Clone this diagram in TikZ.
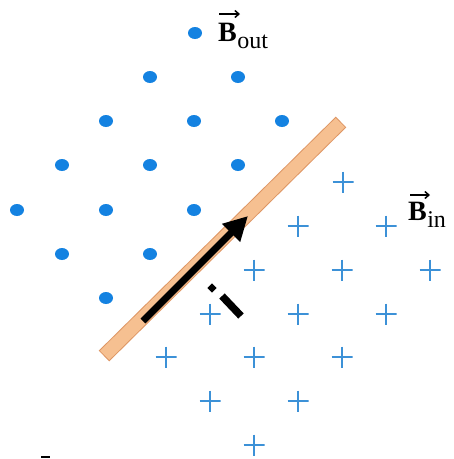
\documentclass[tikz,border=0pt]{standalone}
\usepackage{fontspec}
\setmainfont{Liberation Serif}
\usetikzlibrary{arrows.meta,calc,shapes.geometric}
\definecolor{dotblue}{RGB}{20,130,225}
\definecolor{crossblue}{RGB}{60,145,215}
\definecolor{barfill}{RGB}{246,192,145}
\definecolor{baredge}{RGB}{222,150,100}
\tikzset{
  fielddot/.style={fill=dotblue, ellipse, inner sep=0pt, minimum width=14pt, minimum height=12pt},
  fieldcross/.style={inner sep=0pt, minimum size=21pt, path picture={
      \draw[crossblue, line width=1.4pt] (path picture bounding box.west) -- (path picture bounding box.east)
        (path picture bounding box.north) -- (path picture bounding box.south);}},
  bletter/.style={anchor=base west, inner sep=0pt, font=\fontsize{28}{30}\selectfont\bfseries},
  bsub/.style={anchor=base west, inner sep=0pt, font=\fontsize{24}{26}\selectfont},
  vecarrow/.style={line width=1.5pt, -{Straight Barb[length=4pt,width=7pt]}}
}
\begin{document}
\begin{tikzpicture}[x=1pt, y=-1pt]
\useasboundingbox (0,0) rectangle (454,459);
% dots (B out)
\foreach \x/\y [count=\i] in {195/33, 150/77, 238/77, 106/121, 194/121, 282/121,
    62/165, 150/165, 238/165, 17/210, 106/210, 194/210, 62/254, 150/254, 106/298}
  \node[fielddot] (d\i) at (\x,\y) {};
% crosses (B in)
\foreach \x/\y [count=\i] in {343/182, 298/226, 386/226, 254/270, 342/270, 430/270,
    210/314, 298/314, 386/314, 166/357, 254/357, 342/357, 210/401, 298/401, 254/445}
  \node[fieldcross] (c\i) at (\x,\y) {};
% bar
\coordinate (barA) at (104,356);
\coordinate (barB) at (341,122);
\draw[baredge, line width=15pt] (barA) -- (barB);
\draw[barfill, line width=13pt] ($(barA)!1pt!(barB)$) -- ($(barB)!1pt!(barA)$);
% current arrow
\coordinate (arrS) at (143,321);
\coordinate (arrE) at (248,216);
\draw[line width=7pt, -{Triangle[length=24pt,width=24pt]}] (arrS) -- (arrE);
% rotated i mark
\coordinate (iD) at (212,288);
\coordinate (iA) at (222,296);
\coordinate (iB) at (241,316);
\node[fill=black, rotate=45, minimum size=6.5pt, inner sep=0pt] (idot) at (iD) {};
\draw[line width=7.5pt] (iA) -- (iB);
% labels
\node[bletter] (boutB) at (218,41) {B};
\node[bsub] (boutS) at (boutB.base east) [yshift=-7pt] {out};
\coordinate (boutA1) at (219,14);
\coordinate (boutA2) at (240,14);
\draw[vecarrow] (boutA1) -- (boutA2);
\node[bletter] (binB) at (408,220) {B};
\node[bsub] (binS) at (binB.base east) [yshift=-7pt] {in};
\coordinate (binA1) at (410,195);
\coordinate (binA2) at (430,195);
\draw[vecarrow] (binA1) -- (binA2);
% small dash
\fill (41,456) rectangle (50,458);
\end{tikzpicture}
\end{document}
